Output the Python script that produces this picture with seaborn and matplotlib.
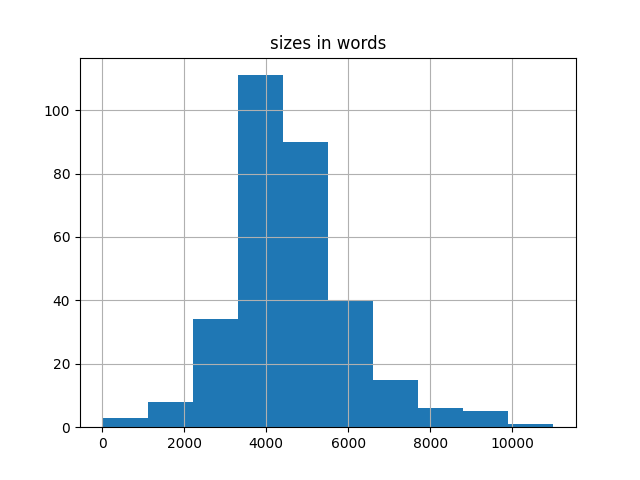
import numpy as np
import pandas as pd
import matplotlib
matplotlib.use("Agg")
import matplotlib.pyplot as plt
import seaborn as sns

# histogram (10 equal bins)
size_min = 5
size_max = 11010
counts = [3, 8, 34, 111, 90, 40, 15, 6, 5, 1]

edges = np.linspace(size_min, size_max, len(counts) + 1)
centers = (edges[:-1] + edges[1:]) / 2
df = pd.DataFrame({"words": centers, "n": counts})

fig, ax = plt.subplots(figsize=(6.4, 4.8), dpi=100)
sns.histplot(data=df, x="words", weights="n", bins=len(counts),
             binrange=(size_min, size_max), color="#1f77b4",
             alpha=1, linewidth=0, ax=ax)
ax.grid(True, color="#b0b0b0", linewidth=0.8)
ax.set_title("sizes in words")
ax.set_xlabel("")
ax.set_ylabel("")

plt.savefig("out.png")
